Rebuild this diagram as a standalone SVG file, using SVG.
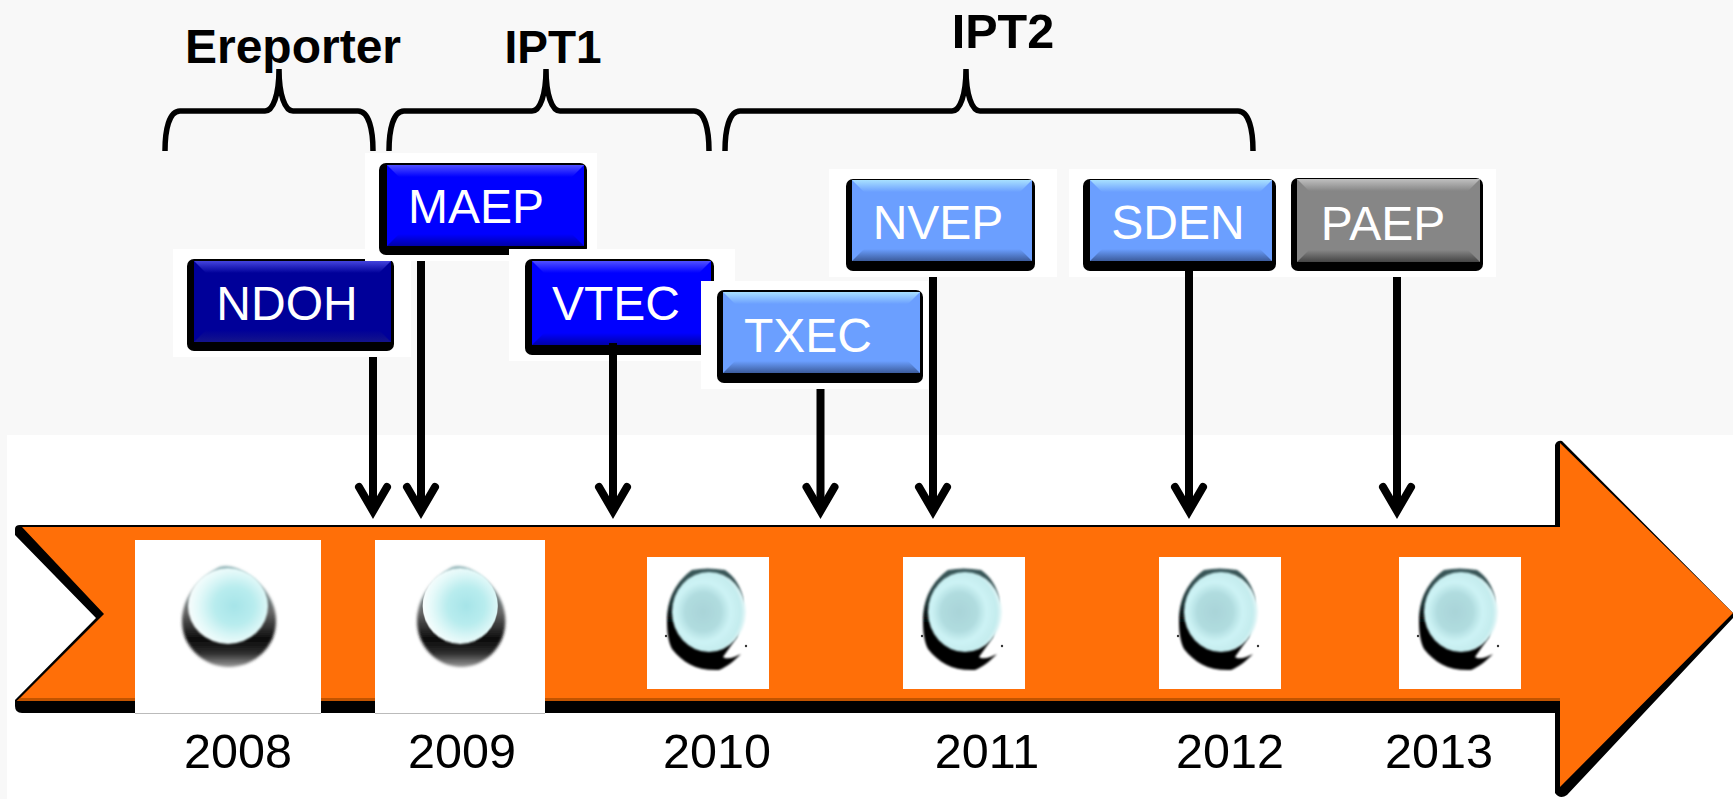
<svg xmlns="http://www.w3.org/2000/svg" width="1733" height="799" viewBox="0 0 1733 799">
<style>
text{font-family:"Liberation Sans",Arial,sans-serif}
.h{font-size:46px;font-weight:700;fill:#000;text-anchor:middle}
.l{font-size:48px;fill:#fff;text-anchor:middle}
.y{font-size:48.500px;fill:#000;text-anchor:middle}
.pad{fill:#fff}
.sh{fill:#000}
.brace{fill:none;stroke:#000;stroke-width:5.500}
.c{fill:none;stroke:#000;stroke-width:8;marker-end:url(#arrow)}
.navy{fill:#000099}.navyT{fill:url(#navyT)}.navyB{fill:url(#navyB)}
.blue{fill:#0000ff}.blueT{fill:url(#blueT)}.blueB{fill:url(#blueB)}
.sky{fill:#6b9fff}.skyT{fill:url(#skyT)}.skyB{fill:url(#skyB)}
.gray{fill:#868686}.grayT{fill:url(#grayT)}.grayB{fill:url(#grayB)}
</style>
<defs>
<marker id="arrow" markerUnits="userSpaceOnUse" viewBox="0 0 44 44" refX="32" refY="22" markerWidth="44" markerHeight="44" orient="auto">
<path d="M8,8 L32,22 L8,36" fill="none" stroke="#000" stroke-width="8" stroke-linecap="round"/>
</marker>
<linearGradient id="navyT" x2="0" y2="1"><stop offset="0" stop-color="#4444dd"/><stop offset="1" stop-color="#000099"/></linearGradient>
<linearGradient id="navyB" x2="0" y2="1"><stop offset="0" stop-color="#000099"/><stop offset="1" stop-color="#14148a"/></linearGradient>
<linearGradient id="blueT" x2="0" y2="1"><stop offset="0" stop-color="#5050ff"/><stop offset="1" stop-color="#0000ff"/></linearGradient>
<linearGradient id="blueB" x2="0" y2="1"><stop offset="0" stop-color="#0000ff"/><stop offset="1" stop-color="#0000a8"/></linearGradient>
<linearGradient id="skyT" x2="0" y2="1"><stop offset="0" stop-color="#a8e0ff"/><stop offset="1" stop-color="#6b9fff"/></linearGradient>
<linearGradient id="skyB" x2="0" y2="1"><stop offset="0" stop-color="#6b9fff"/><stop offset="1" stop-color="#3c5c9c"/></linearGradient>
<linearGradient id="grayT" x2="0" y2="1"><stop offset="0" stop-color="#c0c0c0"/><stop offset="1" stop-color="#868686"/></linearGradient>
<linearGradient id="grayB" x2="0" y2="1"><stop offset="0" stop-color="#868686"/><stop offset="1" stop-color="#444"/></linearGradient>
<linearGradient id="ballDark" x2="0" y2="1"><stop offset="0" stop-color="#3c5a5c"/><stop offset=".3" stop-color="#223a3c"/><stop offset=".55" stop-color="#000"/><stop offset="1" stop-color="#000"/></linearGradient>
<linearGradient id="ballDark2" x2="0" y2="1"><stop offset="0" stop-color="#7aa4a8"/><stop offset=".45" stop-color="#666"/><stop offset=".72" stop-color="#0a0a0a"/><stop offset=".86" stop-color="#2a2a2a"/><stop offset="1" stop-color="#999"/></linearGradient>
<radialGradient id="disc" cx=".42" cy=".5" r=".6"><stop offset="0" stop-color="#a9d4d8"/><stop offset=".4" stop-color="#b0dcdf"/><stop offset=".62" stop-color="#cdf3f5"/><stop offset=".85" stop-color="#c4ecee"/><stop offset="1" stop-color="#f6fdfd"/></radialGradient>
<radialGradient id="disc2" cx=".58" cy=".5" r=".62"><stop offset="0" stop-color="#a6e4e8"/><stop offset=".4" stop-color="#b8ecee"/><stop offset=".7" stop-color="#e0f8f8"/><stop offset="1" stop-color="#fff"/></radialGradient>
<filter id="soft" x="-10%" y="-10%" width="120%" height="120%"><feGaussianBlur stdDeviation="0.800"/></filter>
<filter id="soft2" x="-10%" y="-10%" width="120%" height="120%"><feGaussianBlur stdDeviation="1.600"/></filter>
<g id="ball">
<path d="M45,13 Q60,10 78,13 C88,20 94,30 96,42 L90,80 L76,100 C80,103 88,100 94,97 C88,103 80,110 72,113 C50,114 36,106 25,92 C21,84 20,74 20,64 C20,40 30,24 45,13Z" fill="url(#ballDark)" filter="url(#soft)"/>
<ellipse cx="62" cy="55" rx="37" ry="40" fill="url(#disc)" filter="url(#soft)"/>
<circle cx="19" cy="79" r="1.200" fill="#333"/><circle cx="99" cy="89" r="1.200" fill="#333"/>
</g>
<g id="ball2">
<path d="M38,4 Q47,2 56,6 C78,16 94,36 94,58 C94,84 72,104 47,104 C22,104 0,84 0,58 C0,34 18,14 38,4Z" fill="url(#ballDark2)" filter="url(#soft2)"/>
<ellipse cx="46" cy="43" rx="40" ry="38" fill="url(#disc2)" filter="url(#soft)"/>
</g>
</defs>

<rect width="1733" height="799" fill="#f8f8f8"/>
<rect x="7" y="435" width="1726" height="364" fill="#fff"/>

<g id="timeline-arrow">
<path class="sh" d="M15,529 Q15,525 20,525 L1555,525 L1555,445 Q1557,440 1562,441 L1733,613 L1733,618 L1567,795 Q1560,800 1555,793 L1555,713 L22,713 Q15,713 15,706 L15,700 L96,618 L15,535Z"/>
<path d="M22,527 L1560,527 L1560,443 L1733,613 L1560,787 L1560,701 L17,701 L104,614Z" fill="#ff6f08"/>
<path d="M17,701 L1560,701 L1560,698 L20,698Z" fill="#c25400"/>
</g>

<g id="marker-2008">
<rect class="pad" x="135" y="540" width="186" height="173"/>
<rect x="135" y="713" width="186" height="1" fill="#bbb"/>
<use href="#ball2" x="182" y="563"/>
</g>
<g id="marker-2009">
<rect class="pad" x="375" y="540" width="170" height="173"/>
<rect x="375" y="713" width="170" height="1" fill="#bbb"/>
<use href="#ball2" transform="translate(417,563) scale(.94,1)"/>
</g>
<g id="marker-2010"><rect class="pad" x="647" y="557" width="122" height="132"/><use href="#ball" x="647" y="557"/></g>
<g id="marker-2011"><rect class="pad" x="903" y="557" width="122" height="132"/><use href="#ball" x="903" y="557"/></g>
<g id="marker-2012"><rect class="pad" x="1159" y="557" width="122" height="132"/><use href="#ball" x="1159" y="557"/></g>
<g id="marker-2013"><rect class="pad" x="1399" y="557" width="122" height="132"/><use href="#ball" x="1399" y="557"/></g>

<g id="years">
<text class="y" x="238" y="768">2008</text>
<text class="y" x="462" y="768">2009</text>
<text class="y" x="717" y="768">2010</text>
<text class="y" x="987" y="768">2011</text>
<text class="y" x="1230" y="768">2012</text>
<text class="y" x="1439" y="768">2013</text>
</g>

<g id="braces">
<path class="brace" d="M165,151 C165,130 169,111 180,111 L265,111 C273,111 279,95 279,69 C279,95 285,111 293,111 L358,111 C369,111 373,130 373,151"/>
<path class="brace" d="M389,151 C389,130 393,111 404,111 L532,111 C540,111 546,95 546,69 C546,95 552,111 560,111 L694,111 C705,111 709,130 709,151"/>
<path class="brace" d="M725,151 C725,130 729,111 740,111 L952,111 C960,111 966,95 966,69 C966,95 972,111 980,111 L1238,111 C1249,111 1253,130 1253,151"/>
</g>
<g id="group-labels">
<text class="h" x="293" y="63" style="font-size:48px">Ereporter</text>
<text class="h" x="553" y="63">IPT1</text>
<text class="h" x="1003" y="48" style="font-size:48.500px">IPT2</text>
</g>

<g id="NDOH">
<rect class="pad" x="173" y="249" width="238" height="108"/>
<rect class="sh" x="187" y="259" width="207" height="92" rx="7"/>
<rect class="navy" x="194" y="261" width="197" height="81"/>
<polygon class="navyT" points="194,261 391,261 379,273 206,273"/>
<polygon class="navyB" points="206,330 379,330 391,342 194,342"/>
<text class="l" x="287" y="320">NDOH</text>
</g>
<g id="MAEP">
<rect class="pad" x="365" y="153" width="232" height="108"/>
<rect class="sh" x="379" y="163" width="208" height="92" rx="7"/>
<rect class="blue" x="387" y="165" width="197" height="81"/>
<polygon class="blueT" points="387,165 584,165 572,177 399,177"/>
<polygon class="blueB" points="399,234 572,234 584,246 387,246"/>
<text class="l" x="476" y="223">MAEP</text>
</g>
<g id="VTEC">
<rect class="pad" x="509" y="249" width="226" height="112"/>
<rect class="sh" x="525" y="259" width="189" height="96" rx="7"/>
<rect class="blue" x="532" y="261" width="179" height="84"/>
<polygon class="blueT" points="532,261 711,261 699,273 544,273"/>
<polygon class="blueB" points="544,333 699,333 711,345 532,345"/>
<text class="l" x="616" y="320">VTEC</text>
</g>
<g id="TXEC">
<rect class="pad" x="701" y="281" width="227" height="108"/>
<rect class="sh" x="717" y="290" width="206" height="93" rx="7"/>
<rect class="sky" x="723" y="292" width="197" height="81"/>
<polygon class="skyT" points="723,292 920,292 908,304 735,304"/>
<polygon class="skyB" points="735,361 908,361 920,373 723,373"/>
<text class="l" x="808" y="352">TXEC</text>
</g>
<g id="NVEP">
<rect class="pad" x="829" y="169" width="228" height="108"/>
<rect class="sh" x="846" y="179" width="189" height="92" rx="7"/>
<rect class="sky" x="852" y="180" width="180" height="81"/>
<polygon class="skyT" points="852,180 1032,180 1020,192 864,192"/>
<polygon class="skyB" points="864,249 1020,249 1032,261 852,261"/>
<text class="l" x="938" y="239">NVEP</text>
</g>
<g id="SDEN">
<rect class="pad" x="1069" y="169" width="222" height="108"/>
<rect class="sh" x="1083" y="179" width="193" height="92" rx="7"/>
<rect class="sky" x="1090" y="180" width="182" height="81"/>
<polygon class="skyT" points="1090,180 1272,180 1260,192 1102,192"/>
<polygon class="skyB" points="1102,249 1260,249 1272,261 1090,261"/>
<text class="l" x="1178" y="239">SDEN</text>
</g>
<g id="PAEP">
<rect class="pad" x="1291" y="169" width="205" height="108"/>
<rect class="sh" x="1291" y="178" width="192" height="93" rx="7"/>
<rect class="gray" x="1297" y="179" width="183" height="83"/>
<polygon class="grayT" points="1297,179 1480,179 1468,191 1309,191"/>
<polygon class="grayB" points="1309,250 1468,250 1480,262 1297,262"/>
<text class="l" x="1383" y="240">PAEP</text>
</g>

<g id="connectors">
<path class="c" d="M373,357 V511"/>
<path class="c" d="M421,261 V511"/>
<path class="c" d="M613,343 V511"/>
<path class="c" d="M820.500,389 V511"/>
<path class="c" d="M933,277 V511"/>
<path class="c" d="M1189,271 V511"/>
<path class="c" d="M1397,277 V511"/>
</g>
</svg>
